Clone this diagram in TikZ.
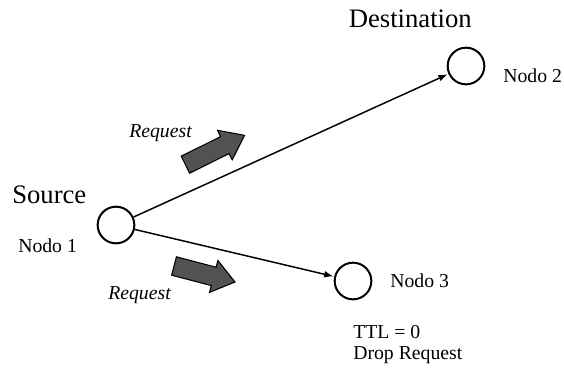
\documentclass[tikz,border=0pt]{standalone}
\usepackage{fontspec}
\setmainfont{Liberation Serif}
\usetikzlibrary{arrows.meta}

\begin{document}
\begin{tikzpicture}[x=0.75pt,y=-0.75pt,
  station/.style={circle,draw,line width=1.5pt,minimum size=27.5pt,inner sep=0pt},
  link/.style={line width=1.1pt,-{Latex[length=7pt,width=5pt]},shorten >=0.5pt},
  title/.style={font=\rmfamily\fontsize{20}{24}\selectfont,inner sep=0pt},
  nodetext/.style={font=\rmfamily\fontsize{14.8}{17}\selectfont,inner sep=0pt},
  reqtext/.style={font=\rmfamily\itshape\fontsize{14.8}{17}\selectfont,inner sep=0pt},
  packet/.style={draw=black,line width=0.8pt,fill=black!68,line join=miter}]
  \useasboundingbox (0,0) rectangle (564,369);

  % network nodes
  \node[station] (n1) at (116,225) {};
  \node[station] (n2) at (466,66) {};
  \node[station] (n3) at (353,281) {};

  % links carrying the request
  \draw[link] (n1) -- (n2);
  \draw[link] (n1) -- (n3);

  % request packets in transit: block arrows centred on their midpoint
  \begin{scope}[shift={(215,150)},rotate=26.4]
    \draw[packet] (-33,-9.5) -- (11,-9.5) -- (11,-16.5) -- (33,0)
      -- (11,16.5) -- (11,9.5) -- (-33,9.5) -- cycle;
  \end{scope}
  \begin{scope}[shift={(204.5,274)},rotate=-14.7]
    \draw[packet] (-31.5,-9.5) -- (9.5,-9.5) -- (9.5,-16.5) -- (31.5,0)
      -- (9.5,16.5) -- (9.5,9.5) -- (-31.5,9.5) -- cycle;
  \end{scope}

  % labels
  \node[title,anchor=base west] (src) at (12,203) {Source};
  \node[title,anchor=base east] (dst) at (472,27) {Destination};
  \node[nodetext,anchor=base west] (l1) at (18,252) {Nodo 1};
  \node[nodetext,anchor=base west] (l2) at (503,82) {Nodo 2};
  \node[nodetext,anchor=base west] (l3) at (390,287) {Nodo 3};
  \node[reqtext,anchor=base west] (r1) at (129,137) {Request};
  \node[reqtext,anchor=base west] (r2) at (108,299) {Request};
  \node[nodetext,anchor=base west] (ttl) at (353,338) {TTL = 0};
  \node[nodetext,anchor=base west] (drop) at (353,359) {Drop Request};
\end{tikzpicture}
\end{document}
